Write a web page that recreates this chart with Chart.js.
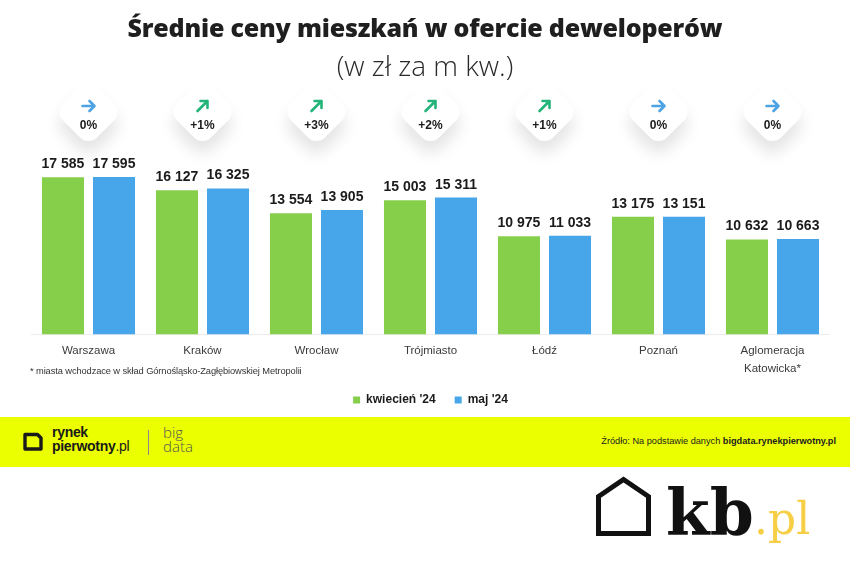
<!DOCTYPE html>
<html><head><meta charset="utf-8">
<script src="https://cdn.jsdelivr.net/npm/chart.js@4"></script>
<style>
html,body{margin:0;padding:0;background:#fff;}
body{width:850px;height:573px;position:relative;overflow:hidden;font-family:'Liberation Sans',Arial,sans-serif;color:#1d1d1d;}
#wrap{position:absolute;left:0;top:0;width:850px;height:440px;}
.t{position:absolute;left:0;width:850px;text-align:center;white-space:nowrap;}
#title{top:11px;line-height:32px;font-family:'Open Sans';font-weight:800;font-size:25px;color:#1f1f1f;letter-spacing:-0.2px;}
#subtitle{top:48px;line-height:34px;font-family:'Open Sans';font-weight:300;font-size:28px;color:#2a2a2a;}
#foot{position:absolute;left:30px;top:365px;font-size:9.3px;line-height:12px;color:#333;white-space:nowrap;letter-spacing:-0.1px;}
#banner{position:absolute;left:0;top:417px;width:850px;height:50px;background:#EBFF00;}
.bt{position:absolute;white-space:nowrap;}
#src{right:14px;top:18px;font-size:9.2px;line-height:12px;color:#222;}
#deco{position:absolute;left:0;top:0;}
</style></head>
<body>
<div id="wrap"><canvas id="c"></canvas></div>
<div class="t" id="title">Średnie ceny mieszkań w ofercie deweloperów</div>
<div class="t" id="subtitle">(w zł za m kw.)</div>
<div id="foot">* miasta wchodzace w skład Górnośląsko-Zagłębiowskiej Metropolii</div>
<div id="banner">
  <div class="bt" style="left:52px;top:9px;font-size:14px;line-height:13px;font-weight:700;color:#1a1a1a;letter-spacing:-0.3px;">rynek</div>
  <div class="bt" style="left:52px;top:22px;font-size:14px;line-height:15px;font-weight:700;color:#1a1a1a;letter-spacing:-0.3px;">pierwotny<span style="font-weight:400;">.pl</span></div>
  <div class="bt" style="left:163px;top:9px;font-size:15px;line-height:13px;color:#555;font-family:'Open Sans';font-weight:300;">big</div>
  <div class="bt" style="left:163px;top:22px;font-size:15px;line-height:15px;color:#555;font-family:'Open Sans';font-weight:300;">data</div>
  <div class="bt" id="src">Źródło: Na podstawie danych <b>bigdata.rynekpierwotny.pl</b></div>
</div>
<svg id="deco" width="850" height="573" viewBox="0 0 850 573">
  <path d="M25,434.5 L37.5,434.5 L41,438 L41,449 L25,449 Z" fill="none" stroke="#1a1a1a" stroke-width="3.4" stroke-linejoin="round"/>
  <line x1="148.5" y1="430" x2="148.5" y2="455" stroke="#8a8a8a" stroke-width="1"/>
  <path d="M598.5,496.5 L623.5,479.5 L648.5,496.5 L648.5,533.5 L598.5,533.5 Z" fill="none" stroke="#111" stroke-width="5" stroke-linejoin="miter"/>
  <text x="666" y="534" font-family="DejaVu Serif" font-weight="700" font-size="63" fill="#111">kb</text>
  <text x="754" y="534" font-family="DejaVu Serif" font-size="44" fill="#F6CF47">.pl</text>
</svg>
<script>
const categories = ['Warszawa', 'Kraków', 'Wrocław', 'Trójmiasto', 'Łódź', 'Poznań', ['Aglomeracja', 'Katowicka*']];
const seriesNames = ["kwiecień '24", "maj '24"];
const aprilValues = [17585, 16127, 13554, 15003, 10975, 13175, 10632];
const mayValues = [17595, 16325, 13905, 15311, 11033, 13151, 10663];
const changeLabels = ['0%', '+1%', '+3%', '+2%', '+1%', '0%', '0%'];

const GREEN = '#86CF4B', BLUE = '#46A6E9';
const fmt = v => String(v).replace(/\B(?=(\d{3})+(?!\d))/g, ' ');

const badges = {
  id: 'badges',
  beforeDatasetsDraw(chart) {
    const ctx = chart.ctx, xs = chart.scales.x;
    changeLabels.forEach((lab, i) => {
      const cx = xs.getPixelForValue(i);
      const cy = 112;
      ctx.save();
      ctx.translate(cx, cy);
      ctx.rotate(Math.PI / 4);
      ctx.shadowColor = 'rgba(0,0,0,0.11)';
      ctx.shadowBlur = 16;
      ctx.shadowOffsetY = 12;
      ctx.fillStyle = '#fff';
      ctx.beginPath();
      ctx.roundRect(-24, -24, 48, 48, 12);
      ctx.fill();
      ctx.restore();

      ctx.save();
      const up = lab.startsWith('+');
      ctx.strokeStyle = up ? '#23B47A' : '#4DA3E3';
      ctx.lineWidth = 2.6;
      ctx.lineCap = 'round';
      ctx.lineJoin = 'round';
      const ay = 106;
      ctx.beginPath();
      if (up) {
        ctx.moveTo(cx - 5, ay + 5); ctx.lineTo(cx + 5, ay - 5);
        ctx.moveTo(cx - 2, ay - 5); ctx.lineTo(cx + 5, ay - 5); ctx.lineTo(cx + 5, ay + 2);
      } else {
        ctx.moveTo(cx - 6, ay); ctx.lineTo(cx + 6, ay);
        ctx.moveTo(cx + 1, ay - 5); ctx.lineTo(cx + 6, ay); ctx.lineTo(cx + 1, ay + 5);
      }
      ctx.stroke();
      ctx.fillStyle = '#1b1b1b';
      ctx.font = '700 12px "Liberation Sans"';
      ctx.textAlign = 'center';
      ctx.textBaseline = 'middle';
      ctx.fillText(lab, cx, 126);
      ctx.restore();
    });
  }
};

const valueLabels = {
  id: 'valueLabels',
  afterDatasetsDraw(chart) {
    const ctx = chart.ctx;
    ctx.save();
    ctx.font = '700 14px "Liberation Sans"';
    ctx.fillStyle = '#1b1b1b';
    ctx.textAlign = 'center';
    ctx.textBaseline = 'alphabetic';
    chart.data.datasets.forEach((ds, di) => {
      chart.getDatasetMeta(di).data.forEach((bar, i) => {
        ctx.fillText(fmt(ds.data[i]), bar.x, bar.y - 9);
      });
    });
    ctx.restore();
  }
};

new Chart(document.getElementById('c'), {
  type: 'bar',
  data: {
    labels: categories,
    datasets: [
      { label: seriesNames[0], data: aprilValues, backgroundColor: GREEN },
      { label: seriesNames[1], data: mayValues, backgroundColor: BLUE }
    ]
  },
  options: {
    responsive: true,
    maintainAspectRatio: false,
    animation: false,
    devicePixelRatio: 1,
    datasets: { bar: { barPercentage: 0.824, categoryPercentage: 0.895 } },
    layout: { padding: { top: 155.6, left: 31.5, right: 20.5, bottom: 24 } },
    scales: {
      x: {
        grid: { display: false, drawTicks: false },
        border: { display: true, color: '#ececec', width: 1 },
        ticks: { font: { family: 'Liberation Sans', size: 11.5, lineHeight: 1.5 }, color: '#3a3a3a', padding: 8, maxRotation: 0, autoSkip: false },
        afterFit(scale) { scale.height -= 10; }
      },
      y: { display: false, min: 0, max: 20000 }
    },
    plugins: {
      legend: {
        position: 'bottom',
        labels: { boxWidth: 7, boxHeight: 7, padding: 19, color: '#1b1b1b', font: { family: 'Liberation Sans', size: 12, weight: '700' } }
      },
      tooltip: { enabled: false }
    }
  },
  plugins: [badges, valueLabels]
});
</script>
</body></html>
